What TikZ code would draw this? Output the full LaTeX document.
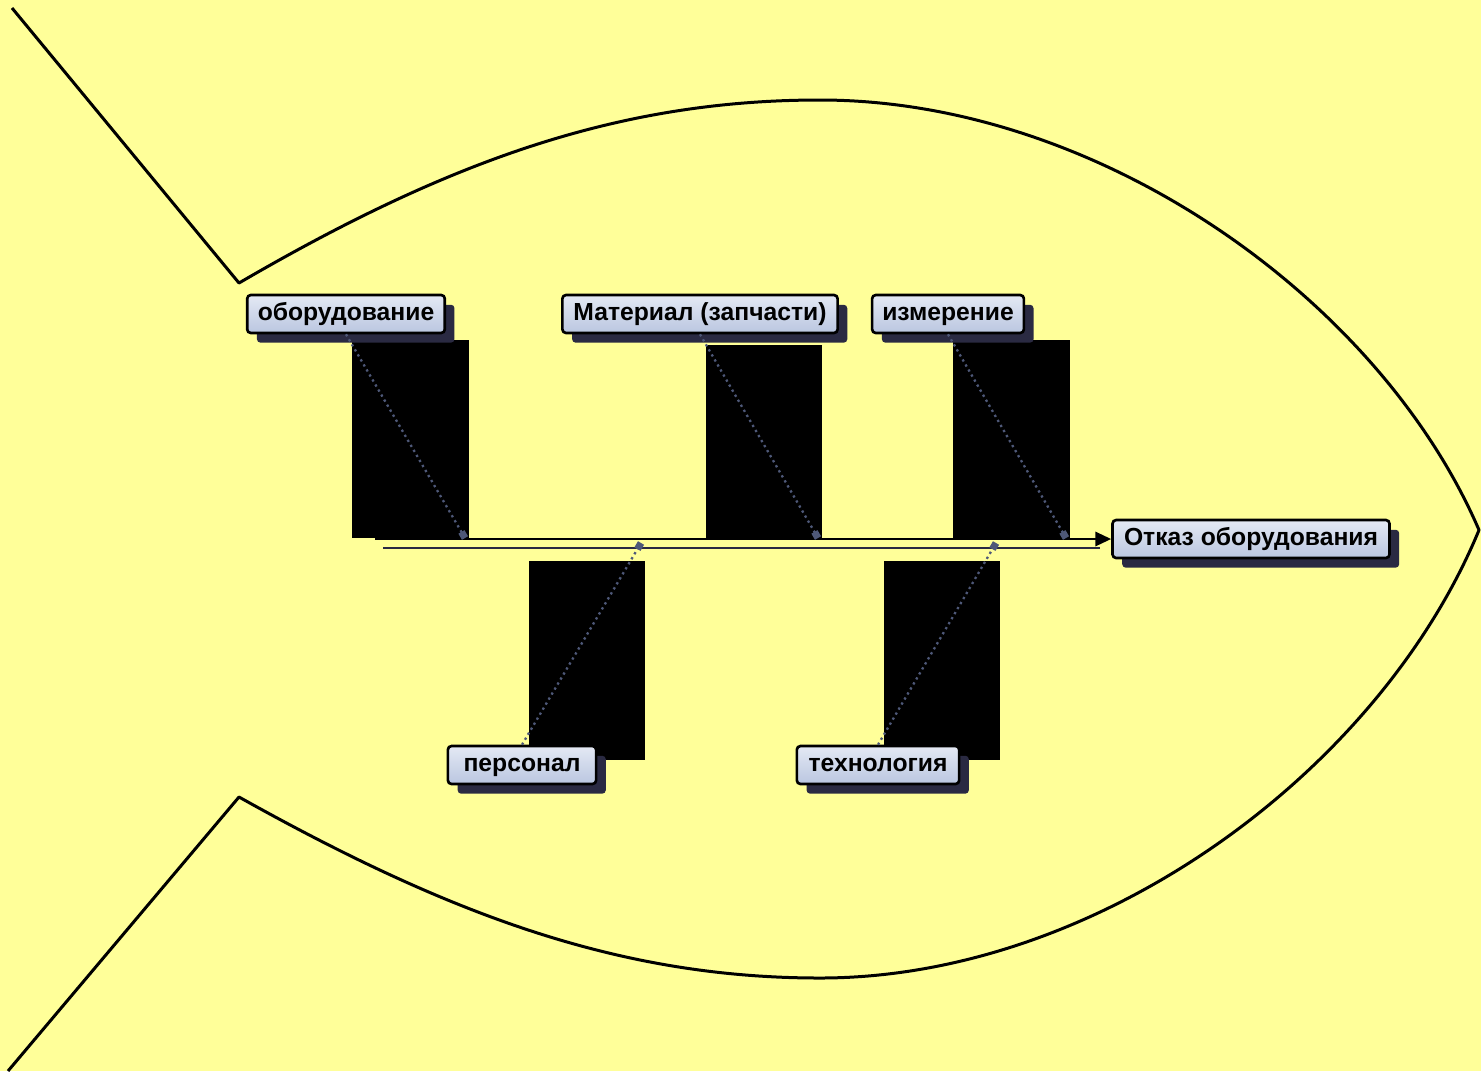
\documentclass[tikz,border=0pt]{standalone}
\usepackage{fontspec}
\setmainfont{Liberation Sans}
\usetikzlibrary{arrows.meta,shadows}
\definecolor{cFish}{RGB}{255,255,153}
\definecolor{cBoxTop}{RGB}{228,233,244}
\definecolor{cBoxBot}{RGB}{186,198,224}
\definecolor{cShade}{RGB}{42,42,66}
\definecolor{cBone}{RGB}{78,88,120}
\tikzset{
  cause/.style={draw=black, line width=1.5pt, rounded corners=2pt,
                top color=cBoxTop, bottom color=cBoxBot,
                minimum height=21.5pt, inner xsep=3pt, inner ysep=2pt,
                text height=10pt, text depth=2.5pt,
                font=\fontsize{14}{17}\selectfont\bfseries,
                drop shadow={shadow xshift=5.5pt, shadow yshift=-5.5pt,
                             fill=cShade, opacity=1}},
  fishline/.style={draw=black, line width=1.7pt, line join=round},
  blot/.style={fill=black},
  bone/.style={-{Square[length=4pt,width=4pt]}, draw=cBone, line width=1.3pt, dotted},
  spine/.style={-{Triangle[length=9pt,width=8pt]}, draw=black, line width=1.6pt},
  spineshade/.style={draw=cShade, line width=1.6pt},
}

\begin{document}
\begin{tikzpicture}[x=0.5669pt, y=-0.5669pt]
\useasboundingbox (0,0) rectangle (1481,1071);
\fill[cFish] (0,0) rectangle (1481,1071);

% fish: tail and body
\draw[fishline] (12,8) -- (239,283)
  .. controls (450,160) and (620,100) .. (820,100)
  .. controls (1100,100) and (1380,300) .. (1479,530)
  .. controls (1380,770) and (1100,978) .. (820,978)
  .. controls (620,978) and (450,915) .. (239,797) -- (8,1071);

% dark blocks behind the bones
\fill[blot] (352,340) rectangle (469,538);
\fill[blot] (706,345) rectangle (822,538);
\fill[blot] (953,340) rectangle (1070,538);
\fill[blot] (529,561) rectangle (645,760);
\fill[blot] (884,561) rectangle (1000,760);

% junctions on the spine
\coordinate (tail) at (375,539);
\coordinate (tailsh) at (383,548);
\coordinate (headsh) at (1100,548);
\coordinate (j1) at (465,538);
\coordinate (j2) at (818,538);
\coordinate (j3) at (1066,538);
\coordinate (j4) at (641,543);
\coordinate (j5) at (996,543);

% causes and effect
\node[cause, minimum width=112pt] (equip) at (346,314) {оборудование};
\node[cause, minimum width=156pt] (mater) at (700,314) {Материал (запчасти)};
\node[cause, minimum width=86pt]  (meas)  at (948,314) {измерение};
\node[cause, minimum width=84pt]  (staff) at (522,765) {персонал};
\node[cause, minimum width=92pt]  (tech)  at (878,765) {технология};
\node[cause, minimum width=157pt] (fail)  at (1251,539) {Отказ оборудования};

% spine
\draw[spineshade] (tailsh) -- (headsh);
\draw[spine] (tail) -- (fail.west);

% bones
\draw[bone] (equip.south) -- (j1);
\draw[bone] (mater.south) -- (j2);
\draw[bone] (meas.south)  -- (j3);
\draw[bone] (staff.north) -- (j4);
\draw[bone] (tech.north)  -- (j5);
\end{tikzpicture}
\end{document}
